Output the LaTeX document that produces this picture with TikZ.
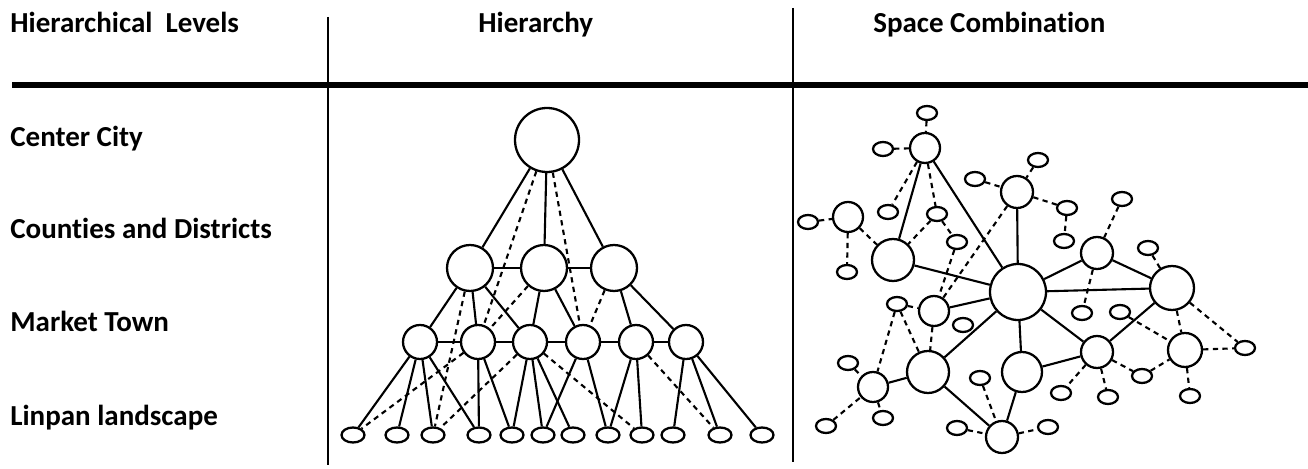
\documentclass[tikz,border=0pt]{standalone}
\usepackage{fontspec}
\setmainfont{Carlito}[Ligatures=NoCommon]
\usepackage{tikz}
\usetikzlibrary{shapes.geometric,positioning}
\tikzset{circ/.style={circle, draw, line width=1.3pt, minimum size=2*#1*0.02cm, inner sep=0pt},
         leaf/.style={ellipse, draw, line width=1.3pt, minimum width=0.46cm, minimum height=0.30cm, inner sep=0pt},
         dot/.style={ellipse, draw, line width=1.3pt, minimum width=0.40cm, minimum height=0.28cm, inner sep=0pt},
         link/.style={line width=1.2pt},
         dlink/.style={line width=1.2pt, dash pattern=on 3pt off 2.5pt},
         txt/.style={anchor=base west, inner sep=0pt, font=\fontsize{16.5}{19}\selectfont\bfseries}}

\begin{document}
\begin{tikzpicture}[x=0.02cm, y=-0.02cm]
\useasboundingbox (0,0) rectangle (1308,469);

% table
\node[txt] (hlev) at (10,33) {Hierarchical\ \ Levels};
\node[txt] (hhie) at (478,33) {Hierarchy};
\node[txt] (hspa) at (873,33) {Space Combination};
\draw[line width=3pt] (12,85) -- (1308,85);
\draw[line width=0.6pt] (328,17) -- (328,465);
\draw[line width=0.6pt] (793,8) -- (793,462);

\node[txt] (lv1) at (10,147) {Center City};
\node[txt] (lv2) at (10,239) {Counties and Districts};
\node[txt] (lv3) at (10,332) {Market Town};
\node[txt] (lv4) at (10,425) {Linpan landscape};

% hierarchy
\node[circ=32] (top) at (547,140) {};
\foreach \x [count=\i] in {470,544,614}
    \node[circ=23] (a\i) at (\x,268) {};
\foreach \x [count=\i] in {420,478,530,583,636,686}
    \node[circ=17] (m\i) at (\x,342) {};
\foreach \x [count=\i] in {353,397,433,479,512,543,573,608,642,673,720,762}
    \node[leaf] (l\i) at (\x,435) {};

\foreach \a/\b in {top/a1,top/a2,top/a3,a1/a2,a2/a3,a1/m1,a1/m2,a1/m3,a2/m3,a2/m4,a3/m5,a3/m6,
    m1/m2,m2/m3,m3/m4,m4/m5,m5/m6,m1/l1,m1/l2,m1/l3,m1/l4,m2/l4,m2/l5,m3/l5,m3/l6,m3/l7,
    m4/l6,m4/l8,m5/l8,m5/l9,m6/l10,m6/l11,m6/l12}
    \draw[link] (\a) -- (\b);
\foreach \a/\b in {top/m2,top/m4,a1/l3,a2/m2,a3/m4,m2/l1,m3/l3,m3/l9,m5/l11}
    \draw[dlink] (\a) -- (\b);

% space combination
\foreach \n/\x/\y/\r in {c1/925/148/15,c2/1017/192/16,c3/1097/253/16,c4/1172/288/22,
    c5/848/217/15,c6/893/260/21,hub/1018/292/28,c7/934/311/15,c8/1097/352/16,c9/1185/350/17,
    c10/1002/437/16,c11/1022/372/20,c12/928/372/21,c13/873/387/15}
    \node[circ=\r] (\n) at (\x,\y) {};
\foreach \n/\x/\y in {e1/927/113,e2/883/149,e3/975/179,e4/1038/160,e5/1067/208,e6/1064/241,
    e7/1122/199,e8/1148/248,e9/808/222,e10/847/272,e11/888/212,e12/937/214,e13/957/242,
    e14/963/325,e15/1082/313,e16/1120/312,e17/1245/348,e18/1142/376,e19/1108/397,e20/1190/396,
    e21/1061/393,e22/1048/427,e23/897/304,e24/848/363,e25/826/426,e26/883/418,e27/980/378,e28/957/428}
    \node[dot] (\n) at (\x,\y) {};

\foreach \a/\b in {c1/c6,c1/hub,c2/hub,c6/hub,c7/hub,c3/hub,c4/hub,c8/hub,c11/hub,c12/hub,
    c3/c4,c4/c8,c8/c11,c11/c10,c12/c10,c12/c13}
    \draw[link] (\a) -- (\b);
\foreach \a/\b in {e1/c1,e2/c1,c1/e11,c1/e12,e12/c6,e12/e13,e13/c7,c2/c7,e3/c2,e4/c2,c2/e5,
    e5/e6,e7/c3,e8/c4,c3/e15,e9/c5,c5/e10,c5/c6,e23/c7,e23/c13,e23/c12,c7/c12,e24/c13,e25/c13,
    c13/e26,e27/c10,e28/c10,c10/e22,c8/e21,c8/e19,c8/e18,e18/c9,e16/c9,c4/c9,c4/e17,c9/e17,c9/e20}
    \draw[dlink] (\a) -- (\b);

\end{tikzpicture}
\end{document}
